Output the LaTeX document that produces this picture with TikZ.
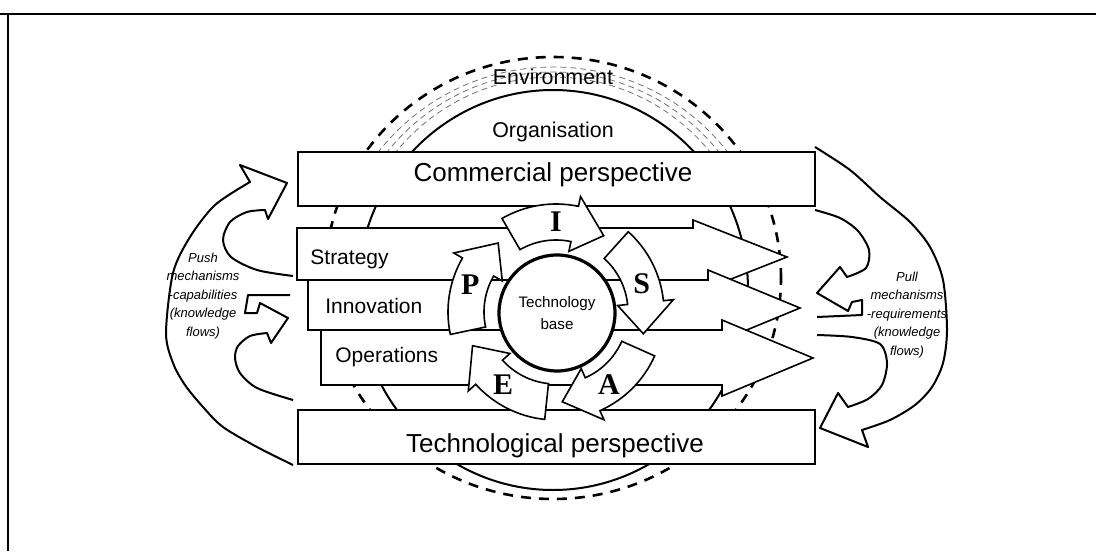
\documentclass[tikz,border=0pt]{standalone}
\usepackage{fontspec}
\setmainfont{Liberation Sans}
\newfontfamily\letterfont{Liberation Serif}
\begin{document}
\begin{tikzpicture}[x=0.5pt,y=-0.5pt,
 perspbox/.style={draw,fill=white,line width=1pt,minimum width=258.5pt,
   minimum height=27pt,inner sep=0pt},
 persptext/.style={anchor=base,inner sep=0pt,font=\fontsize{13}{15}\selectfont},
 rowtext/.style={anchor=base west,inner sep=0pt,font=\fontsize{10.5}{12}\selectfont},
 rowarrow/.style={draw,fill=white,line width=.8pt},
 ringtext/.style={anchor=base,inner sep=0pt,font=\fontsize{10.7}{13}\selectfont},
 flowtext/.style={align=center,inner sep=0pt,
   font=\fontsize{6.5}{9.2}\selectfont\itshape},
 flowline/.style={line width=1pt,line join=round},
 cyclearrow/.style={draw,fill=white,line width=.8pt},
 pisea/.style={inner sep=0pt,font=\letterfont\bfseries\fontsize{15}{15}\selectfont}]
\path[use as bounding box] (0,0) rectangle (1096,551);
% frame
\draw[line width=1pt] (0,14) -- (1096,14);
\draw[line width=1pt] (8,14) -- (8,551);
% environment and organisation rings
\draw[line width=1.3pt,dash pattern=on 5pt off 4pt]
 (553,278) ellipse [x radius=114pt,y radius=110.5pt];
\draw[line width=1pt] (553,290) ellipse [x radius=97.5pt,y radius=100pt];
\begin{scope}
 \clip (0,0) rectangle (1096,150);
 \foreach \rx/\ry in {102/103.5,106/106,110/108.5}
  \draw[black!55,line width=.4pt,dash pattern=on 3pt off 2pt]
   (553,284) ellipse [x radius=\rx pt,y radius=\ry pt];
\end{scope}
\node[ringtext] (env) at (553,85) {Environment};
\node[ringtext] (org) at (553,137) {Organisation};
% push mechanisms
\draw[flowline] plot[smooth] coordinates {(293,276) (257,270) (231,257)
  (223,240) (230,222) (247,212) (265,210)}
 -- (268,219) -- (287,183) -- (240,165) -- (250,182)
 -- plot[smooth] coordinates {(250,182) (215,205) (190,237) (173,273)
  (166,333) (173,363) (185,385) (203,407) (223,427) (257,447) (293,465)};
\draw[flowline] (290,295) -- (248,295) -- (245,313) -- (257,313) -- (260,303)
 -- (288,318) -- (271,343) -- (267,333)
 -- plot[smooth] coordinates {(267,333) (250,336) (238,346) (235,358)
  (240,373) (257,388) (293,400)};
% pull mechanisms
\draw[flowline] plot[smooth] coordinates {(815,210) (840,218) (858,231)
  (869,250) (866,268) (847,277)}
 -- (840,267) -- (817,293) -- (848,311) -- (852,302) -- (862,300)
 -- (862,315) -- (817,317);
\draw[flowline] plot[smooth] coordinates {(815,147) (850,170) (880,197)
  (910,222) (930,247) (943,280) (947,330) (943,363) (932,387) (915,405)
  (890,420) (862,430)}
 -- (868,447) -- (820,428) -- (838,393) -- (848,407)
 -- plot[smooth] coordinates {(848,407) (868,399) (882,385) (887,363)
  (880,344) (852,337) (817,335)};
\node[flowtext] (push) at (203,296) {Push\\mechanisms\\-capabilities\\(knowledge\\flows)};
\node[flowtext] (pull) at (907,315) {Pull\\mechanisms\\-requirements\\(knowledge\\flows)};
% perspectives
\node[perspbox] (comm) at (556.5,179) {};
\node[persptext] (commtext) at (553,181) {Commercial perspective};
\node[perspbox] (tech) at (556,437) {};
\node[persptext] (techtext) at (555,452) {Technological perspective};
% strategy, innovation, operations
\filldraw[rowarrow] (297,228) -- (693,228) -- (693,220) -- (787,257)
 -- (693,294) -- (693,280) -- (297,280) -- cycle;
\filldraw[rowarrow] (308,280) -- (708,280) -- (708,270) -- (800,308)
 -- (708,346) -- (708,330) -- (308,330) -- cycle;
\filldraw[rowarrow] (321,330) -- (722,330) -- (722,320) -- (813,358)
 -- (722,396) -- (722,385) -- (321,385) -- cycle;
\node[rowtext] (strat) at (310,264.5) {Strategy};
\node[rowtext] (innov) at (325,313.5) {Innovation};
\node[rowtext] (oper) at (335,362.5) {Operations};
% I-S-A-E-P cycle
\begin{scope}[shift={(556,312)},y=0.5pt]
\foreach \a/\l in {162/P,90/I,18/S,-54/A,-126/E}{
 \filldraw[cyclearrow] (\a+30:72) arc[start angle=\a+30,end angle=\a-12,radius=36pt]
  -- (\a-12:62) -- (\a-32:90) -- (\a-12:118) -- (\a-12:108)
  arc[start angle=\a-12,end angle=\a+30,radius=54pt] -- cycle;
 \node[pisea] (l\l) at (\a:90) {\l};
}
\end{scope}
\node[draw,circle,fill=white,line width=1.6pt,minimum size=58pt,inner sep=0pt,
 align=center,font=\fontsize{7.6}{11}\selectfont] (base) at (557,313) {Technology\\base};
\end{tikzpicture}
\end{document}
